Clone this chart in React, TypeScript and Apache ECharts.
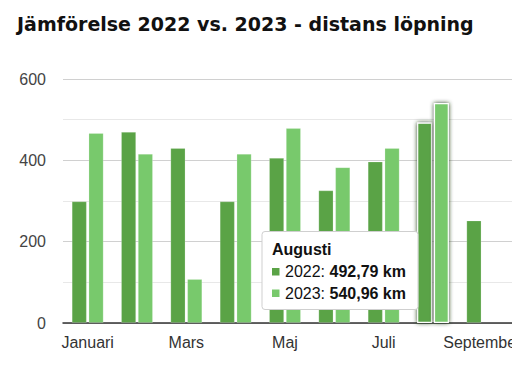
import React, { useEffect, useRef } from "react";
import * as echarts from "echarts";

const months = ["Januari", "Februari", "Mars", "April", "Maj", "Juni", "Juli", "Augusti", "September", "Oktober", "November", "December"];
const values2022: (number | null)[] = [299, 470, 430, 299, 406, 326, 397, 492.79, 252, null, null, null];
const values2023: (number | null)[] = [467, 416, 108, 416, 479, 383, 430, 540.96, null, null, null, null];
const seriesNames = ["2022", "2023"];
const colors = ["#5aa346", "#78c96c"];
const highlightIndex = 7;

const fmt = (v: number | null) => (v == null ? "-" : v.toFixed(2).replace(".", ",") + " km");

function makeData(vals: (number | null)[]) {
  return vals.map((v, i) =>
    i === highlightIndex
      ? {
          value: v,
          itemStyle: {
            borderColor: "#ffffff",
            borderWidth: 1.2,
            shadowBlur: 4,
            shadowColor: "rgba(30,55,25,0.95)",
          },
        }
      : v
  );
}

export default function App() {
  const ref = useRef<HTMLDivElement>(null);
  useEffect(() => {
    if (!ref.current) return;
    const chart = echarts.init(ref.current, undefined, { renderer: "svg" });
    const font = "'Liberation Sans', Arial, sans-serif";
    const tipFont = 16;
    chart.setOption({
      animation: false,
      textStyle: { fontFamily: font },
      title: {
        text: "Jämförelse 2022 vs. 2023 - distans löpning",
        left: 12,
        top: 9,
        textStyle: { fontSize: 19, fontWeight: "bold", color: "#111", fontFamily: "'DejaVu Sans', sans-serif" },
      },
      grid: { left: 63, top: 79, width: 592, height: 244 },
      xAxis: {
        type: "category",
        data: months,
        axisLine: { lineStyle: { color: "#333", width: 1.5 } },
        axisTick: { show: false },
        axisLabel: { interval: 1, color: "#333", fontSize: 16, margin: 11, fontFamily: font },
      },
      yAxis: {
        type: "value",
        min: 0,
        max: 600,
        interval: 200,
        axisLine: { show: false },
        axisTick: { show: false },
        axisLabel: { color: "#444", fontSize: 16, margin: 17, fontFamily: font },
        splitLine: { lineStyle: { color: "#d0d0d0", width: 1 } },
        minorTick: { show: false, splitNumber: 2 },
        minorSplitLine: { show: true, lineStyle: { color: "#e8e8e8", width: 1 } },
      },
      series: [
        {
          name: seriesNames[0],
          type: "bar",
          data: makeData(values2022),
          barWidth: 15,
          barGap: "12%",
          itemStyle: { color: colors[0], borderColor: "rgba(255,255,255,0.25)", borderWidth: 0.8 },
        },
        {
          name: seriesNames[1],
          type: "bar",
          data: makeData(values2023),
          barWidth: 15,
          barGap: "12%",
          itemStyle: { color: colors[1], borderColor: "rgba(255,255,255,0.25)", borderWidth: 0.8 },
        },
      ],
      graphic: [
        {
          type: "rect",
          z: 100,
          shape: { x: 262, y: 231.5, width: 156, height: 78, r: 3 },
          style: { fill: "#ffffff", stroke: "#cfcfcf", lineWidth: 1 },
        },
        {
          type: "text",
          z: 101,
          x: 272,
          y: 241,
          style: { text: months[highlightIndex], font: `bold ${tipFont}px ${font}`, fill: "#111" },
        },
        { type: "rect", z: 101, shape: { x: 272, y: 268, width: 7.5, height: 7.5 }, style: { fill: colors[0] } },
        {
          type: "text",
          z: 101,
          x: 285,
          y: 263,
          style: {
            text: `{n|${seriesNames[0]}: }{b|${fmt(values2022[highlightIndex])}}`,
            rich: {
              n: { fontSize: tipFont, fontFamily: font, fill: "#111" },
              b: { fontSize: tipFont, fontFamily: font, fontWeight: "bold", fill: "#111" },
            },
          },
        },
        { type: "rect", z: 101, shape: { x: 272, y: 289.5, width: 7.5, height: 7.5 }, style: { fill: colors[1] } },
        {
          type: "text",
          z: 101,
          x: 285,
          y: 285,
          style: {
            text: `{n|${seriesNames[1]}: }{b|${fmt(values2023[highlightIndex])}}`,
            rich: {
              n: { fontSize: tipFont, fontFamily: font, fill: "#111" },
              b: { fontSize: tipFont, fontFamily: font, fontWeight: "bold", fill: "#111" },
            },
          },
        },
      ],
    });
    return () => chart.dispose();
  }, []);
  return (
    <div style={{ position: "fixed", left: 0, top: 0, width: 512, height: 377, overflow: "hidden", background: "#fff" }}>
      <div ref={ref} style={{ width: 700, height: 377 }} />
    </div>
  );
}
